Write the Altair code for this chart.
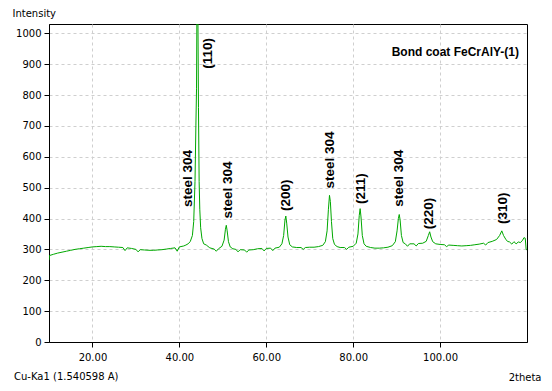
import altair as alt
import pandas as pd

two_theta = [
    10.0, 10.1, 11, 12, 13, 14, 15, 16, 17, 18, 19, 20, 21, 22, 23, 24, 25, 26, 27, 27.5, 28, 29, 30,
    30.5, 31, 32, 33, 34, 35, 36, 37, 38, 39, 39.5, 40, 41, 41.5, 42, 42.5, 43, 43.3, 43.6, 43.8,
    43.95, 44.1, 44.25, 44.4, 44.55, 44.7, 44.9, 45.2, 45.6, 46.2, 47, 48, 48.5, 49, 49.8, 50.3,
    50.6, 50.8, 51.0, 51.3, 51.7, 52.3, 53, 53.5, 54, 55, 55.5, 56, 57, 58, 59, 59.5, 60, 61, 61.5,
    62, 63, 63.6, 64.0, 64.3, 64.5, 64.7, 65.0, 65.4, 66, 67, 68, 68.5, 69, 70, 71, 72, 73, 73.6,
    74.0, 74.3, 74.55, 74.75, 75.0, 75.3, 75.7, 76.3, 77, 78, 78.5, 79, 80, 80.7, 81.1, 81.4, 81.6,
    81.8, 82.1, 82.5, 83, 84, 85, 86, 87, 88, 89, 89.7, 90.1, 90.4, 90.6, 90.8, 91.1, 91.5, 92,
    92.5, 93, 94, 94.5, 95, 96, 96.8, 97.3, 97.6, 97.9, 98.3, 99, 100, 101, 101.5, 102, 103, 104,
    105, 106, 107, 108, 109, 110, 110.5, 111, 112, 113, 113.7, 114.2, 114.6, 115.1, 115.5, 116,
    116.5, 117, 117.5, 118, 118.5, 119.0, 119.3, 119.6, 119.8, 120,
]
intensity = [
    265, 280, 284, 288, 291, 294, 297, 300, 302, 304, 306, 308, 309, 310, 309, 309, 308, 307, 306, 296, 305, 303, 300,
    292, 299, 298, 297, 297, 298, 299, 301, 303, 305, 294, 308, 311, 314, 318, 325, 345, 390, 520, 700,
    820, 1250, 1100, 760, 520, 430, 370, 335, 318, 314, 305, 301, 294, 302, 310, 330,
    365, 378, 360, 325, 308, 302, 300, 292, 299, 298, 291, 298, 299, 302, 303, 295, 303, 304, 296,
    304, 307, 318, 345, 395, 408, 385, 340, 315, 308, 306, 306, 300, 306, 307, 307, 309, 313, 325,
    360, 430, 475, 455, 390, 335, 316, 309, 306, 306, 300, 307, 310, 320, 350, 410, 432,
    405, 345, 318, 310, 306, 304, 304, 305, 307, 312, 325, 360, 400, 413, 395, 345, 322, 318,
    310, 318, 318, 311, 319, 320, 326, 345, 357, 340, 325, 318, 316, 315, 309, 314, 313, 312,
    311, 312, 313, 315, 317, 320, 314, 322, 326, 332, 345, 360, 345, 333, 326, 324,
    317, 325, 318, 324, 322, 330, 338, 336, 300, 298,
]

# peak annotations: label, 2theta of label centre, intensity at label start
peak_labels = ["steel 304", "(110)", "steel 304", "(200)", "steel 304", "(211)", "steel 304", "(220)", "(310)"]
label_x = [41.9, 46.6, 51.1, 64.5, 74.75, 81.7, 90.5, 97.55, 114.4]
label_y = [437, 885, 400, 424, 497, 447, 438, 365, 382]

x_ticks = [20, 40, 60, 80, 100]
y_ticks = [0, 100, 200, 300, 400, 500, 600, 700, 800, 900, 1000]

df = pd.DataFrame({"two_theta": two_theta, "intensity": intensity})
lab = pd.DataFrame({"label": peak_labels, "x": label_x, "y": label_y})

x_scale = alt.Scale(domain=[10, 120], nice=False, zero=False)
y_scale = alt.Scale(domain=[0, 1030], nice=False)

common_axis = dict(
    grid=True, gridDash=[3, 3], gridColor="#cfcfcf", domainColor="#000000",
    tickColor="#000000", tickSize=5, labelFont="DejaVu Sans", labelFontSize=10,
    labelColor="#000000", titleFont="DejaVu Sans", titleFontSize=10,
    titleFontWeight="normal", titleColor="#000000", labelOverlap=False,
)
x_axis = alt.Axis(values=x_ticks, format=".2f", title="2theta", labelPadding=5,
                  titleX=492, titleY=35, titleAlign="right", titleBaseline="middle",
                  **common_axis)
y_axis = alt.Axis(values=y_ticks, format="d", title="Intensity", labelPadding=3,
                  titleAngle=0, titleX=-37, titleY=-11, titleAlign="left",
                  titleBaseline="middle", **common_axis)

line = alt.Chart(df).mark_line(color="#00a800", strokeWidth=1, clip=True).encode(
    x=alt.X("two_theta:Q", scale=x_scale, axis=x_axis, title="2theta"),
    y=alt.Y("intensity:Q", scale=y_scale, axis=y_axis, title="Intensity"),
)

labels = alt.Chart(lab).mark_text(
    angle=270, align="left", baseline="middle", font="Liberation Sans",
    fontWeight="bold", fontSize=13.5, color="#000000",
).encode(x=alt.X("x:Q", scale=x_scale, axis=x_axis, title="2theta"),
         y=alt.Y("y:Q", scale=y_scale, axis=y_axis, title="Intensity"),
         text="label:N")

sample = alt.Chart(pd.DataFrame({"t": ["Bond coat FeCrAlY-(1)"]})).mark_text(
    align="right", baseline="middle", font="Liberation Sans", fontWeight="bold",
    fontSize=12, color="#000000",
).encode(x=alt.value(470), y=alt.value(28), text="t:N")

wave = alt.Chart(pd.DataFrame({"t": ["Cu-Ka1 (1.540598 A)"]})).mark_text(
    align="left", baseline="middle", font="DejaVu Sans", fontSize=10, color="#000000",
).encode(x=alt.value(-35), y=alt.value(353), text="t:N")

chart = alt.layer(line, labels, sample, wave).properties(
    width=478, height=318,
    autosize=alt.AutoSizeParams(type="none"),
    padding={"left": 41, "top": 16, "right": 17, "bottom": 41},
    background="#ffffff",
).configure_view(stroke="#000000", strokeWidth=1)

chart.save("out.html", embed_options={"renderer": "svg", "actions": False})
